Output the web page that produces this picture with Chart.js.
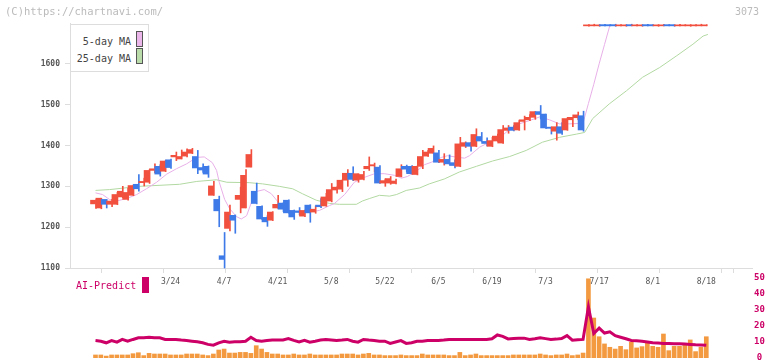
<!DOCTYPE html>
<html>
<head>
<meta charset="utf-8">
<script src="https://cdn.jsdelivr.net/npm/chart.js@4"></script>
<style>
body { margin: 0; background: #fff; }
#wrap { position: relative; width: 772px; height: 361px; overflow: hidden; font-family: "DejaVu Sans Mono", monospace; }
canvas { position: absolute; left: 0; top: 0; }
.txt { position: absolute; white-space: pre; line-height: 1; }
#copy { left: 5px; top: 6px; font-size: 10.5px; color: #bbb; }
#code { left: 735px; top: 7px; font-size: 10px; color: #bbb; }
#legend { position: absolute; left: 70px; top: 24px; width: 77px; height: 46px; border: 1px solid #ddd; background: #fff; }
#legend .row { position: absolute; right: 17px; font-size: 10px; color: #444; }
#legend .sw { position: absolute; left: 65px; width: 5px; height: 14px; border: 1px solid #555; }
#ai { left: 76px; top: 281px; font-size: 10px; color: #cc0066; }
#aiBox { position: absolute; left: 142px; top: 277px; width: 7px; height: 16px; background: #cc0066; }
</style>
</head>
<body>
<div id="wrap">
  <canvas id="volChart" width="772" height="361"></canvas>
  <canvas id="priceChart" width="772" height="361"></canvas>
  <div class="txt" id="copy">(C)https://chartnavi.com/</div>
  <div class="txt" id="code">3073</div>
  <div id="legend">
    <div class="row" style="top:11px">5-day MA</div>
    <div class="sw" style="top:6px;background:#ebb6ea"></div>
    <div class="row" style="top:28px">25-day MA</div>
    <div class="sw" style="top:23px;background:#b9dcaa"></div>
  </div>
  <div class="txt" id="ai">AI-Predict</div>
  <div id="aiBox"></div>
</div>
<script>
// ローソク足 (3/3 〜 8/18)
var opens = [1257,1247,1268,1256,1256,1274,1268,1278,1305,1309, 1310,1339,1349,1337,1365,1372,1367,1374,1381,1373,
  1346,1349,1278,1268,1130,1197,1229,1268,1247,1347, 1288,1251,1224,1217,1247,1259,1266,1241,1240,1227,
  1254,1237,1254,1252,1264,1291,1293,1315,1332,1315, 1317,1343,1350,1347,1308,1308,1307,1324,1349,1349,
  1329,1349,1374,1381,1382,1359,1366,1358,1349,1398, 1407,1398,1422,1410,1398,1411,1406,1437,1445,1438,
  1459,1463,1469,1483,1477,1445,1435,1446,1438,1463, 1468,1473,1693,1693,1693,1696,1696,1696,1693,1693,
  1696,1693,1693,1696,1696,1693,1693,1696,1696,1693, 1693,1693,1693,1693,1693];
var highs = [1267,1271,1268,1268,1285,1300,1295,1304,1329,1320, 1341,1355,1353,1364,1367,1384,1389,1392,1393,1388,
  1355,1350,1312,1276,1187,1254,1230,1298,1341,1390, 1308,1252,1228,1238,1278,1260,1267,1242,1248,1242,
  1255,1252,1270,1283,1307,1299,1316,1341,1348,1331, 1337,1372,1357,1351,1318,1324,1318,1353,1352,1351,
  1350,1388,1388,1399,1388,1380,1377,1365,1420,1409, 1408,1441,1432,1419,1420,1428,1449,1449,1449,1461,
  1472,1476,1483,1498,1477,1445,1456,1456,1468,1469, 1482,1484,1696,1697,1696,1697,1696,1697,1696,1696,
  1697,1696,1696,1697,1696,1696,1697,1696,1696,1697, 1696,1696,1696,1697,1696];
var lows = [1246,1245,1247,1250,1255,1272,1266,1277,1288,1301, 1307,1333,1325,1336,1344,1363,1367,1372,1380,1331,
  1334,1322,1278,1201,1100,1191,1185,1235,1247,1347, 1257,1219,1202,1216,1246,1238,1234,1219,1230,1226,
  1212,1234,1248,1251,1262,1283,1287,1300,1314,1310, 1316,1339,1335,1307,1300,1305,1306,1323,1335,1330,
  1328,1343,1373,1380,1358,1352,1354,1345,1348,1395, 1386,1397,1410,1399,1397,1410,1405,1430,1436,1437,
  1438,1461,1464,1465,1442,1428,1413,1427,1437,1446, 1463,1435,1692,1693,1692,1693,1693,1692,1693,1692,
  1693,1693,1692,1693,1693,1692,1693,1693,1692,1693, 1693,1692,1693,1693,1693];
var closes = [1266,1271,1256,1264,1280,1288,1285,1302,1294,1312, 1339,1343,1330,1362,1346,1376,1373,1384,1390,1345,
  1340,1330,1301,1240,1121,1237,1217,1278,1327,1378, 1258,1220,1213,1237,1256,1244,1235,1225,1236,1241,
  1235,1244,1250,1274,1292,1298,1315,1332,1317,1331, 1329,1349,1353,1308,1314,1319,1313,1343,1342,1331,
  1349,1373,1384,1393,1359,1366,1355,1351,1404,1407, 1398,1427,1411,1405,1412,1423,1439,1443,1437,1456,
  1463,1469,1483,1476,1443,1442,1446,1430,1466,1469, 1475,1438,1695,1695,1695,1693,1693,1693,1695,1695,
  1693,1695,1695,1693,1693,1695,1695,1693,1693,1695, 1695,1695,1695,1695,1695];

// 移動平均 (位置は足の番号)
var ma5X = [0,1.3,2.6,3.9,5.8,7.7,9.5,11.4,13.3,15.1,17,18.9,20.3,21.8,22.6,23.1,24.1,25,26.3,27.2,28.2,29.3,30.2,31.5,
  32.8,33.8,34.7,36.2,38.1,39.9,41.8,43.7,44.6,46.5,48.3,50.2,52.1,53.9,55.8,57.1,58.2,60.1,61.4,62.7,64.6,65.7,
  67.6,68.9,69.8,71.7,73.5,75.4,77.3,79.1,81,82.9,84.7,86.6,88.5,90.3,91,92,93,94,95,96,114];
var ma5Y = [1284,1280,1268,1264,1270,1280,1294,1310,1330,1343,1355,1371,1372,1358,1339,1310,1268,1246,1226,1220,1228,1268,1288,1292,
  1282,1266,1250,1241,1237,1237,1241,1253,1258,1280,1310,1322,1331,1331,1327,1320,1324,1339,1353,1359,1371,1375,
  1371,1369,1375,1396,1408,1418,1440,1453,1461,1470,1463,1453,1453,1454,1455,1503,1550,1600,1647,1694,1694];
var ma25X = [0,2.6,8.2,15.7,18.9,22.6,24.5,28.7,31.2,34.3,36.8,38.6,41.2,43.7,45.5,48.7,49.8,51.1,53,54.9,56.2,58,60.5,
  62.3,65.1,67.9,71.1,74.1,77.3,80.4,83.4,86.6,89.8,91.3,92.8,95.9,99.1,102.1,105.3,108.5,111.5,113.4,114.3];
var ma25Y = [1290,1292,1300,1305,1312,1316,1310,1309,1306,1300,1294,1282,1266,1258,1256,1256,1264,1270,1278,1276,1280,1290,1296,
  1306,1318,1335,1349,1362,1373,1388,1408,1420,1428,1432,1466,1502,1534,1567,1591,1620,1648,1668,1672];

// 下段: 出来高とAI-Predict
var volumes = [1.9,1.9,1.2,1.9,1.9,1.9,1.9,2.7,3.3,1.5, 2.9,2.5,2.5,2.5,1.9,1.9,1.9,2.5,2.5,2.5,
  1.9,1.5,2.5,5.0,5.6,3.1,3.1,3.5,3.5,2.9, 7.7,5.6,3.5,2.5,2.5,1.9,1.9,2.5,1.9,1.9,
  2.5,1.9,1.9,1.9,1.9,1.9,2.5,2.5,2.5,1.9, 2.5,2.9,1.9,1.9,1.5,1.5,1.5,1.9,1.5,1.5,
  1.5,2.5,1.9,1.9,1.9,1.9,1.5,1.5,3.5,1.5, 1.9,2.5,1.5,1.5,1.5,1.5,1.5,1.5,1.9,1.9,
  1.9,1.9,1.9,2.5,1.9,1.5,1.9,1.9,2.5,1.5, 1.9,3.1,49.5,25,13.3,8.8,6.7,5.6,7.3,5.2,
  9.8,6.3,7.1,9.8,7.3,6.7,15,4.6,7.3,7.3, 8.1,11.3,4,6.7,13.3];
var aiPredict = [10.9,10.5,9.5,10.9,9.9,11.6,10.5,11.6,12.6,12.6, 13,12.6,12.6,11.6,11.6,11.6,11.2,10.9,10.5,10.1,
  9.5,8.5,8,9.5,10.5,9.9,10.1,10.1,10.5,13, 10.9,10.5,10.9,11.3,11.3,11.3,12.2,11,10.1,11.1,
  9.9,10.5,11.2,11.6,11.3,10.9,11.2,11.6,10.5,9.9, 11.6,11.2,10.9,10.5,10.5,9.1,10,10.9,9.1,9.5,
  10.5,10.5,10.9,10.9,10.9,11.2,11.6,11.6,11.6,11.6, 11.6,11.6,11.6,11.6,12,14.4,13.5,11.9,12.2,12.4,
  12.4,11.6,12,12.6,12.1,11.6,11.8,12.2,14,11.1, 11.4,11.6,32,15.3,18.7,15.6,16.4,14,13,12,
  11,10.8,10.5,10,9.5,9.3,9.1,9,8.9,8.9, 8.7,8.5,8.3,8.2,8];

// 軸
var tickIdx = [14,24,34,44,54,64,74,84,94,104,114];
var tickLabels = ['3/24','4/7','4/21','5/8','5/22','6/5','6/19','7/3','7/17','8/1','8/18'];
var priceTicks = [1100,1200,1300,1400,1500,1600];
var xMin = -4.76, xMax = 122.53;

var RED = '#f2503f', BLUE = '#3f7be8';
var MONO = 'DejaVu Sans Mono';

function pts(xs, ys) {
  return xs.map(function(x, i) { return {x: x, y: ys[i]}; });
}

window.onload = function() {
  var candleColors = closes.map(function(c, i) { return c >= opens[i] ? RED : BLUE; });

  new Chart(document.getElementById('priceChart'), {
    type: 'bar',
    data: {
      datasets: [{
        type: 'line', data: pts(ma5X, ma5Y), borderColor: '#e8b0e8', borderWidth: 1,
        pointRadius: 0, order: 3, clip: false
      }, {
        type: 'line', data: pts(ma25X, ma25Y), borderColor: '#b2d9a2', borderWidth: 1,
        pointRadius: 0, order: 4, clip: false
      }, {
        data: lows.map(function(l, i) { return {x: i, y: [l, highs[i]]}; }),
        backgroundColor: candleColors, barThickness: 1, order: 2, clip: false
      }, {
        data: opens.map(function(o, i) { return {x: i, y: [o, closes[i]]}; }),
        backgroundColor: candleColors, barThickness: 5, minBarLength: 1, order: 1, clip: false
      }]
    },
    options: {
      responsive: false,
      animation: false,
      layout: { padding: { top: 23, right: 20, left: 0, bottom: 0 } },
      plugins: { legend: { display: false }, tooltip: { enabled: false } },
      scales: {
        x: {
          type: 'linear', min: xMin, max: xMax, offset: false,
          afterFit: function(s) { s.height = 93; },
          afterBuildTicks: function(s) {
            var t = [];
            for (var k = 0; k <= 11; k++) t.push({value: s.min + k * (s.max - s.min) / 11});
            tickIdx.forEach(function(v) { t.push({value: v}); });
            s.ticks = t;
          },
          grid: {
            drawOnChartArea: false, tickLength: 5,
            color: function(c) { return (c.tick && Number.isInteger(c.tick.value)) ? 'rgba(0,0,0,0)' : '#ddd'; }
          },
          border: { color: '#ddd' },
          ticks: {
            autoSkip: false, maxRotation: 0, padding: 4, color: '#555',
            font: { family: MONO, size: 8 },
            callback: function(v) { var k = tickIdx.indexOf(v); return k < 0 ? '' : tickLabels[k]; }
          }
        },
        y: {
          min: 1100, max: 1700,
          afterFit: function(s) { s.width = 70; },
          afterBuildTicks: function(s) { s.ticks = priceTicks.map(function(v) { return {value: v}; }); },
          grid: { drawOnChartArea: false, tickLength: 5, color: '#ddd' },
          border: { color: '#ddd' },
          ticks: { padding: 5, color: '#555', font: { family: MONO, size: 8, weight: 'bold' },
                   callback: function(v) { return String(v); } }
        }
      }
    }
  });

  new Chart(document.getElementById('volChart'), {
    type: 'bar',
    data: {
      datasets: [{
        type: 'line', data: aiPredict.map(function(v, i) { return {x: i, y: v}; }),
        borderColor: '#cc0066', borderWidth: 3, pointRadius: 0, order: 1
      }, {
        data: volumes.map(function(v, i) { return {x: i, y: v}; }),
        backgroundColor: '#f39a40', barThickness: 4, order: 2
      }]
    },
    options: {
      responsive: false,
      animation: false,
      layout: { padding: { top: 278, bottom: 3, left: 70, right: 0 } },
      plugins: { legend: { display: false }, tooltip: { enabled: false } },
      scales: {
        x: { type: 'linear', display: false, min: xMin, max: xMax, offset: false },
        y: {
          position: 'right', min: 0, max: 50,
          afterFit: function(s) { s.width = 20; },
          grid: { display: false }, border: { display: false },
          ticks: { stepSize: 10, crossAlign: 'center', padding: -6, color: '#cc0066',
                   font: { family: MONO, size: 9, weight: 'bold' } }
        }
      }
    }
  });
};
</script>
</body>
</html>
